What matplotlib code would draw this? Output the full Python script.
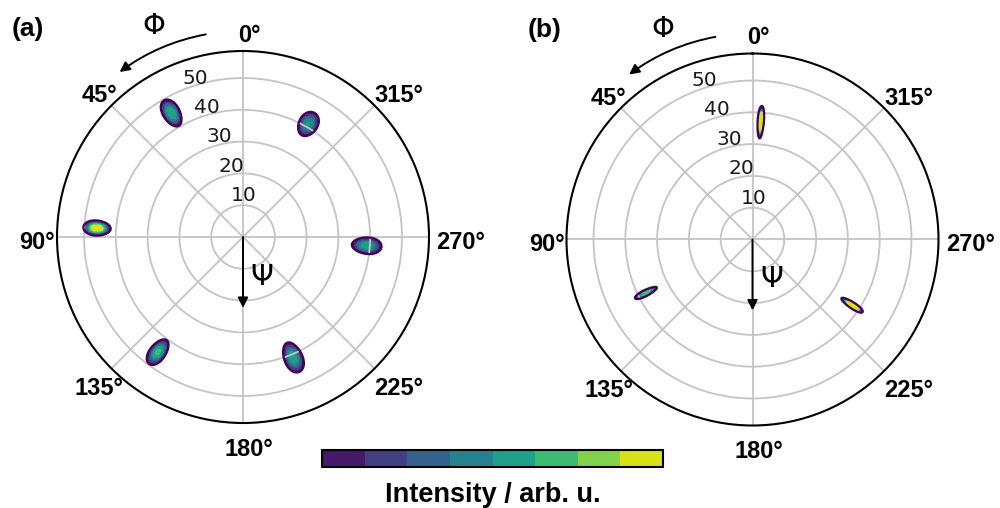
import numpy as np
import matplotlib
matplotlib.use('Agg')
import matplotlib.pyplot as plt
from matplotlib import transforms

# ---------------- data ----------------
psi_max = 58.5
rad_ticks = [10, 20, 30, 40, 50]
ang_ticks = [0, 45, 90, 135, 180, 225, 270, 315]
ang_labels = ['0°', '45°', '90°', '135°', '180°', '225°', '270°', '315°']

# panel (a) spots: azimuth phi (deg), tilt psi (deg), peak intensity, widths (deg)
phi_a = [30.0, 86.5, 143.5, 202.6, 266.0, 330.0]
psi_a = [45.0, 46.0, 45.0, 41.0, 39.0, 41.0]
amp_a = [0.64, 1.05, 0.66, 0.60, 0.58, 0.53]
sphi_a = [1.75, 1.45, 1.65, 2.1, 2.0, 2.2]
spsi_a = [2.4, 2.1, 2.4, 2.6, 2.45, 2.15]

# panel (b) spots
phi_b = [356.0, 116.6, 236.6]
psi_b = [37.0, 37.5, 37.5]
amp_b = [1.5, 0.72, 1.3]
sphi_b = [0.72, 0.76, 0.72]
spsi_b = [2.4, 1.95, 1.9]

levels = np.linspace(0.05, 1.0, 9)

# ---------------- figure ----------------
fig = plt.figure(figsize=(10, 5.08), dpi=100)
ax_a = fig.add_axes([0.057, 0.1673, 0.372, 0.7323], projection='polar')
ax_b = fig.add_axes([0.5665, 0.1624, 0.372, 0.7323], projection='polar')

th = np.radians(np.linspace(0, 360, 2881))
rr = np.linspace(0, psi_max, 700)
TH, RR = np.meshgrid(th, rr)


def field(phis, psis, amps, sphis, spsis):
    Z = np.zeros_like(TH)
    deg = np.degrees(TH)
    for p, s, a, sp, ss in zip(phis, psis, amps, sphis, spsis):
        dphi = (deg - p + 180.0) % 360.0 - 180.0
        q = 0.5 * ((dphi / sp) ** 2 + ((RR - s) / ss) ** 2)
        Z += a * np.exp(-q ** 1.5)
    return np.minimum(Z, 0.999)


cmap = plt.get_cmap('viridis')
off_rad = transforms.ScaledTranslation(13 / 100, 12 / 100, fig.dpi_scale_trans)
AX_PX = 372.0  # axes box size in pixels

cs_keep = None
for ax, data in ((ax_a, (phi_a, psi_a, amp_a, sphi_a, spsi_a)),
                 (ax_b, (phi_b, psi_b, amp_b, sphi_b, spsi_b))):
    ax.set_theta_zero_location('N')
    ax.set_theta_direction(1)
    ax.set_ylim(0, psi_max)
    ax.set_yticks(rad_ticks)
    ax.set_yticklabels([])
    ax.set_xticks(np.radians(ang_ticks))
    ax.set_xticklabels([])
    ax.grid(True, color='#c4c4c4', lw=1.3)
    ax.spines['polar'].set_linewidth(1.5)
    ax.spines['polar'].set_color('black')
    ax.tick_params(length=0)

    Z = field(*data)
    cs = ax.contourf(TH, RR, Z, levels=levels, cmap=cmap)
    ax.contour(TH, RR, Z, levels=[levels[0]], colors=[cmap(0.0)], linewidths=1.6)
    if cs_keep is None:
        cs_keep = cs

    # angle labels (placed around the rim)
    for t, lab in zip(ang_ticks, ang_labels):
        tr = np.radians(t)
        dx = 6.0 - 212.0 * np.sin(tr)
        dy = 5.0 - 207.0 * np.cos(tr)
        ax.text(0.5 + dx / AX_PX, 0.5 - dy / AX_PX, lab, transform=ax.transAxes,
                ha='center', va='center', fontsize=17, fontweight='bold',
                family='Liberation Sans', clip_on=False)
    # radial labels
    for r in rad_ticks:
        ax.text(np.radians(22.5), r, str(r), transform=ax.transData + off_rad,
                ha='center', va='center', fontsize=14.5, family='DejaVu Sans',
                color='#1a1a1a', clip_on=False)

    # Psi arrow
    ax.annotate('', xy=(np.pi, 22.3), xytext=(0, 0),
                arrowprops=dict(arrowstyle='-|>', color='black', lw=1.4,
                                mutation_scale=15, shrinkA=0, shrinkB=0))
    ax.text(np.radians(205.4), 13.9, 'Ψ', fontsize=21, ha='center', va='center',
            family='DejaVu Sans')

    # Phi arc arrow
    ax.annotate('', xy=(np.radians(36.8), 64.8), xytext=(np.radians(10.4), 64.8),
                annotation_clip=False,
                arrowprops=dict(arrowstyle='-|>', color='black', lw=1.4,
                                mutation_scale=15, shrinkA=0, shrinkB=0,
                                connectionstyle='arc3,rad=0.115'))
    ax.text(np.radians(23.0), 72.0, 'Φ', fontsize=21, ha='center', va='center',
            family='DejaVu Sans', clip_on=False)

fig.text(0.028, 1 - 29 / 508, '(a)', fontsize=19, fontweight='bold',
         family='Liberation Sans', ha='center', va='center')
fig.text(0.5445, 1 - 30 / 508, '(b)', fontsize=19, fontweight='bold',
         family='Liberation Sans', ha='center', va='center')

cax = fig.add_axes([0.322, 1 - 467 / 508, 0.341, 17 / 508])
cb = fig.colorbar(cs_keep, cax=cax, orientation='horizontal', ticks=[])
cb.outline.set_linewidth(1.5)
cb.outline.set_edgecolor('black')
fig.text(0.4925, 1 - 502 / 508, 'Intensity / arb. u.', ha='center', va='baseline',
         fontsize=19.5, fontweight='bold', family='Liberation Sans')

fig.savefig('out.png', dpi=100)
